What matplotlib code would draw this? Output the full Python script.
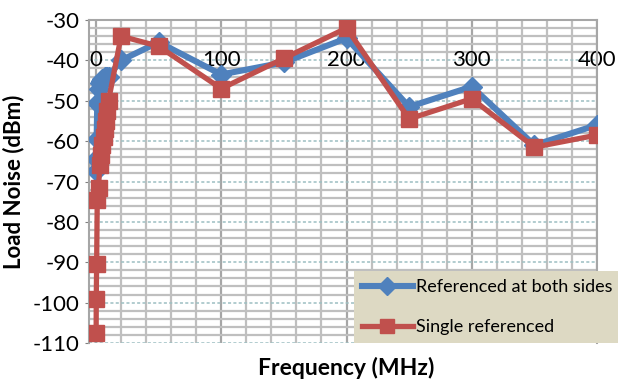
import matplotlib
matplotlib.use("Agg")
import matplotlib.pyplot as plt
from matplotlib.ticker import MultipleLocator

plt.rcParams['font.family'] = ['Lato', 'DejaVu Sans']
plt.rcParams['axes.unicode_minus'] = False

freq = [0.1, 0.2, 0.5, 1, 2, 3, 4, 5, 6, 7, 8, 9, 10, 20, 50, 100, 150, 200, 250, 300, 350, 400]
both_sides = [-67.5, -64.5, -59.5, -50.5, -47, -45.5, -45, -44.5, -44.5, -44, -44, -44, -44,
              -40, -35.5, -43.5, -40.5, -34.5, -51.5, -46.5, -61, -56]
single_ref = [-107.5, -99, -90.5, -74.5, -71.5, -66, -63.5, -61, -59, -57, -55, -52.5, -50,
              -34, -36.5, -47, -39.5, -32, -54.5, -49.5, -61.5, -58.5]
x_ticks = [0, 100, 200, 300, 400]

fig = plt.figure(figsize=(6.18, 3.81), dpi=100)
ax = fig.add_axes([89/618, 1-343/381, 508/618, 323/381])

ax.plot(freq, both_sides, color='#4F81BD', lw=4.4, marker='D', ms=10.5,
        label='Referenced at both sides', zorder=3)
ax.plot(freq, single_ref, color='#C0504D', lw=3.8, marker='s', ms=11.5,
        label='Single referenced', zorder=4)

ax.set_xlim(-5.6, 400)
ax.set_ylim(-110, -30)
ax.xaxis.set_major_locator(MultipleLocator(100))
ax.xaxis.set_minor_locator(MultipleLocator(20))
ax.yaxis.set_major_locator(MultipleLocator(10))
ax.yaxis.set_minor_locator(MultipleLocator(2))

ax.grid(which='minor', color='#BFBFBF', lw=1.6, zorder=0)
ax.grid(which='major', axis='x', color='#A6A6A6', lw=1.6, zorder=0)
ax.grid(which='major', axis='y', color='#9DBFC2', lw=1.1, linestyle=(0, (2, 1.5)), zorder=1)
ax.set_axisbelow(True)

ax.tick_params(axis='x', which='both', bottom=False, top=False, labelbottom=False)
ax.tick_params(axis='y', which='minor', left=False)
ax.tick_params(axis='y', which='major', direction='out', length=3, color='#808080',
               labelsize=16, pad=4)

for s in ['top', 'right', 'left']:
    ax.spines[s].set_color('#A6A6A6')
    ax.spines[s].set_linewidth(1.5)
ax.spines['bottom'].set_visible(False)

for t in x_ticks:
    ax.text(t, -40, str(t), ha='center', va='center', fontsize=16, zorder=2)

ax.set_ylabel('Load Noise (dBm)', fontsize=16, fontweight='bold', labelpad=6)
fig.text(346/618, 1-368/381, 'Frequency (MHz)', ha='center', va='center',
         fontsize=16.5, fontweight='bold')

leg = fig.legend(loc='lower left', bbox_to_anchor=(354/618, 1-343/381, 264/618, 79/381),
                 mode='expand', fontsize=13, frameon=True, fancybox=False,
                 handlelength=2.8, handletextpad=0.2, borderaxespad=0,
                 labelspacing=1.3, borderpad=0.45, markerscale=0.85)
leg.get_frame().set_facecolor('#DDD9C3')
leg.get_frame().set_edgecolor('none')
leg.get_frame().set_alpha(1)

fig.savefig('out.png', dpi=100)
